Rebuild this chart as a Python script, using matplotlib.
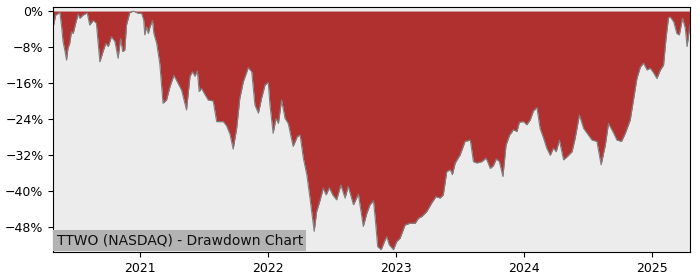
import matplotlib
matplotlib.use("Agg")
import matplotlib.pyplot as plt
import matplotlib.dates as mdates
from matplotlib.ticker import PercentFormatter
import pandas as pd

ticker = "TTWO (NASDAQ)"

dates = [
    "2020-04-29", "2020-05-06", "2020-05-18", "2020-05-23", "2020-05-27", "2020-06-01",
    "2020-06-06", "2020-06-10", "2020-06-15", "2020-06-20", "2020-06-25", "2020-07-02",
    "2020-07-09", "2020-07-14", "2020-07-23", "2020-08-04", "2020-08-11", "2020-08-21",
    "2020-08-30", "2020-09-09", "2020-09-18", "2020-09-26", "2020-10-03", "2020-10-12",
    "2020-10-22", "2020-10-31", "2020-11-07", "2020-11-13", "2020-11-19", "2020-11-24",
    "2020-12-03", "2020-12-13", "2020-12-27", "2021-01-06", "2021-01-12", "2021-01-15",
    "2021-01-20", "2021-01-25", "2021-01-30", "2021-02-06", "2021-02-10", "2021-02-18",
    "2021-02-27", "2021-03-08", "2021-03-18", "2021-03-28", "2021-04-08", "2021-04-20",
    "2021-04-30", "2021-05-07", "2021-05-14", "2021-05-24", "2021-05-31", "2021-06-07",
    "2021-06-14", "2021-06-19", "2021-06-26", "2021-07-05", "2021-07-15", "2021-07-29",
    "2021-08-08", "2021-08-17", "2021-08-27", "2021-09-05", "2021-09-15", "2021-09-24",
    "2021-10-04", "2021-10-13", "2021-10-23", "2021-11-06", "2021-11-16", "2021-11-25",
    "2021-12-05", "2021-12-14", "2021-12-24", "2022-01-02", "2022-01-07", "2022-01-16",
    "2022-01-24", "2022-01-31", "2022-02-09", "2022-02-19", "2022-02-28", "2022-03-14",
    "2022-03-26", "2022-04-03", "2022-04-12", "2022-04-22", "2022-05-01", "2022-05-13",
    "2022-05-20", "2022-05-30", "2022-06-08", "2022-06-16", "2022-06-25", "2022-07-05",
    "2022-07-16", "2022-07-28", "2022-08-09", "2022-08-18", "2022-09-02", "2022-09-16",
    "2022-09-30", "2022-10-10", "2022-10-19", "2022-10-29", "2022-11-03", "2022-11-10",
    "2022-11-20", "2022-11-29", "2022-12-06", "2022-12-13", "2022-12-25", "2023-01-03",
    "2023-01-13", "2023-01-27", "2023-02-10", "2023-02-25", "2023-03-06", "2023-03-16",
    "2023-03-30", "2023-04-13", "2023-04-25", "2023-05-07", "2023-05-16", "2023-05-26",
    "2023-06-05", "2023-06-11", "2023-06-19", "2023-07-03", "2023-07-17", "2023-08-01",
    "2023-08-10", "2023-08-20", "2023-09-03", "2023-09-15", "2023-09-27", "2023-10-06",
    "2023-10-14", "2023-10-23", "2023-11-02", "2023-11-11", "2023-11-21", "2023-12-02",
    "2023-12-12", "2023-12-19", "2023-12-31", "2024-01-09", "2024-01-19", "2024-01-28",
    "2024-02-07", "2024-02-16", "2024-02-26", "2024-03-06", "2024-03-16", "2024-03-25",
    "2024-04-02", "2024-04-11", "2024-04-23", "2024-05-03", "2024-05-17", "2024-05-26",
    "2024-06-07", "2024-06-19", "2024-07-03", "2024-07-13", "2024-07-27", "2024-08-08",
    "2024-08-20", "2024-08-29", "2024-09-13", "2024-09-22", "2024-10-05", "2024-10-16",
    "2024-10-30", "2024-11-09", "2024-11-18", "2024-11-28", "2024-12-07", "2024-12-17",
    "2024-12-26", "2025-01-05", "2025-01-14", "2025-01-24", "2025-02-02", "2025-02-09",
    "2025-02-16", "2025-02-21", "2025-03-03", "2025-03-12", "2025-03-19", "2025-03-28",
    "2025-04-05", "2025-04-10", "2025-04-17", "2025-04-19",
]

# drawdown from running peak, in percent
drawdown = [
    -3.5, -0.9, -0.3, -3.5, -6.8, -8.7,
    -10.9, -8.3, -7.2, -4.6, -5.0, -2.7,
    -0.7, -1.6, -0.9, -0.4, -3.1, -2.1,
    -2.7, -11.3, -9.0, -7.2, -7.9, -5.7,
    -6.8, -10.5, -6.1, -9.0, -8.7, -3.1,
    -0.4, 0.0, -0.5, -0.5, -2.0, -5.3,
    -3.5, -5.0, -3.5, -2.1, -5.0, -7.2,
    -11.8, -20.5, -19.8, -16.8, -14.3, -16.1,
    -17.6, -19.8, -22.0, -14.5, -13.5, -14.5,
    -13.3, -17.9, -17.2, -18.5, -19.8, -20.0,
    -24.6, -24.6, -24.6, -25.5, -27.4, -30.7,
    -26.1, -19.4, -15.7, -12.6, -13.5, -20.9,
    -22.7, -19.4, -16.4, -15.9, -20.9, -27.2,
    -23.9, -25.0, -19.8, -23.9, -25.0, -30.1,
    -27.9, -27.6, -32.7, -36.4, -41.6, -49.0,
    -44.6, -42.0, -39.4, -40.9, -39.3, -40.9,
    -42.0, -38.7, -41.6, -39.0, -43.1, -40.7,
    -47.9, -45.0, -43.1, -42.2, -46.1, -52.4,
    -53.1, -51.3, -50.2, -52.0, -53.1, -51.3,
    -50.5, -47.6, -47.2, -47.2, -46.1, -45.7,
    -44.6, -42.7, -41.3, -41.6, -40.9, -35.7,
    -35.3, -36.4, -33.8, -32.0, -29.0, -28.7,
    -33.5, -33.8, -33.5, -32.7, -35.0, -34.4,
    -32.9, -33.5, -36.8, -29.8, -27.6, -26.4,
    -26.8, -24.7, -24.6, -25.3, -24.2, -22.2,
    -21.5, -26.1, -28.3, -30.5, -32.1, -30.5,
    -31.3, -28.7, -33.1, -32.4, -31.3, -28.3,
    -23.1, -26.1, -27.6, -28.7, -29.0, -34.2,
    -29.8, -25.0, -27.2, -28.7, -29.0, -27.2,
    -24.2, -19.4, -15.0, -12.4, -11.6, -13.1,
    -12.7, -13.8, -15.0, -13.1, -12.0, -6.1,
    -1.5, -1.3, -2.4, -5.0, -5.3, -1.6,
    -3.8, -7.9, -3.8, -3.0,
]

yticks = [0, -8, -16, -24, -32, -40, -48]

x = pd.to_datetime(dates)

fig = plt.figure(figsize=(7, 2.8), dpi=100)
ax = fig.add_axes([0.076, 0.1, 0.91, 0.875])
ax.set_facecolor("#ececec")

ax.fill_between(x, drawdown, 0, color="#b03030", linewidth=0)
ax.plot(x, drawdown, color="grey", linewidth=0.8)

ax.set_xlim(x[0], x[-1])
ax.set_ylim(-53.6, 0.9)
ax.set_yticks(yticks)
ax.yaxis.set_major_formatter(PercentFormatter(xmax=100, decimals=0))
ax.xaxis.set_major_locator(mdates.YearLocator())
ax.xaxis.set_major_formatter(mdates.DateFormatter("%Y"))
ax.tick_params(labelsize=9)

ax.annotate(f"{ticker} - Drawdown Chart", xy=(0, 0), xycoords="axes fraction",
            xytext=(2.5, 3), textcoords="offset points", ha="left", va="bottom",
            fontsize=10, color="#111111",
            bbox=dict(facecolor="#b3b3b3", edgecolor="none", pad=2.5))

fig.savefig("out.png")
